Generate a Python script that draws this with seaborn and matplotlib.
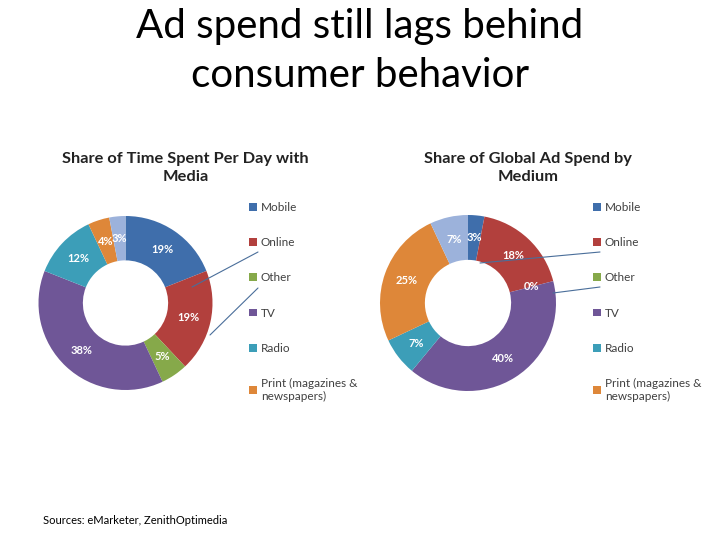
import numpy as np
import seaborn as sns
import matplotlib.pyplot as plt
from matplotlib.lines import Line2D
from matplotlib.patches import Patch

sns.set_style("white")
plt.rcParams['font.family'] = ['Lato', 'DejaVu Sans']

# data
media = ["Mobile", "Online", "Other", "TV", "Radio", "Print (magazines &\nnewspapers)", ""]
time_share = [19, 19, 5, 38, 12, 4, 3]
ad_share = [3, 18, 0, 40, 7, 25, 7]
colors = ["#3F6EAB", "#B2403D", "#86A94A", "#6F5697", "#3C9EB8", "#DE8739", "#9CB2DB"]

W, H = 720, 540
fig = plt.figure(figsize=(7.2, 5.4), dpi=100)


def fx(x):
    return x / W


def fy(y):
    return 1 - y / H


def donut(cx, cy, r, vals, title, legx):
    ax = fig.add_axes([fx(cx - r), fy(cy + r), 2 * r / W, 2 * r / H])
    wedges, _ = ax.pie(vals, colors=colors, startangle=90, counterclock=False,
                       radius=1, wedgeprops=dict(width=0.51, linewidth=0))
    ax.set_xlim(-1, 1)
    ax.set_ylim(-1, 1)
    ax.set_aspect("equal")
    # labels at ring middle
    tot = sum(vals)
    start = 90.0
    for v in vals:
        ang = np.deg2rad(start - v / tot * 360 / 2)
        start -= v / tot * 360
        rr = 0.745
        ax.text(rr * np.cos(ang), rr * np.sin(ang), f"{v}%", color="white",
                fontsize=8, fontweight="bold", ha="center", va="center")
    fig.text(fx(cx + 60), fy(168), title, ha="center", va="center",
             fontsize=11.8, fontweight="bold", color="#222222", linespacing=1.45)
    handles = [Patch(facecolor=colors[i], edgecolor="none") for i in range(6)]
    fig.legend(handles, media[:6], loc="upper left",
               bbox_to_anchor=(fx(legx), fy(202)), frameon=False,
               fontsize=8.5, labelcolor="#404040", handlelength=0.65, handleheight=0.65,
               handletextpad=0.35, labelspacing=2.05, borderaxespad=0, borderpad=0)
    return ax


donut(125.5, 303, 87, time_share, "Share of Time Spent Per Day with\nMedia", 249)
donut(468, 303, 88, ad_share, "Share of Global Ad Spend by\nMedium", 593)

# connector lines
for (x0, y0, x1, y1) in [(258, 252, 192, 287), (258, 288, 210, 335),
                         (600, 252, 480, 263), (600, 287, 553, 293)]:
    fig.add_artist(Line2D([fx(x0), fx(x1)], [fy(y0), fy(y1)], transform=fig.transFigure,
                          color="#4A6E9A", linewidth=0.8))

fig.text(0.5, fy(51), "Ad spend still lags behind\nconsumer behavior", ha="center",
         va="center", fontsize=29, color="black", linespacing=1.4)
fig.text(fx(43), fy(520), "Sources: eMarketer, ZenithOptimedia", ha="left", va="center",
         fontsize=8, color="black")

fig.savefig("out.png", dpi=100, facecolor="white")
